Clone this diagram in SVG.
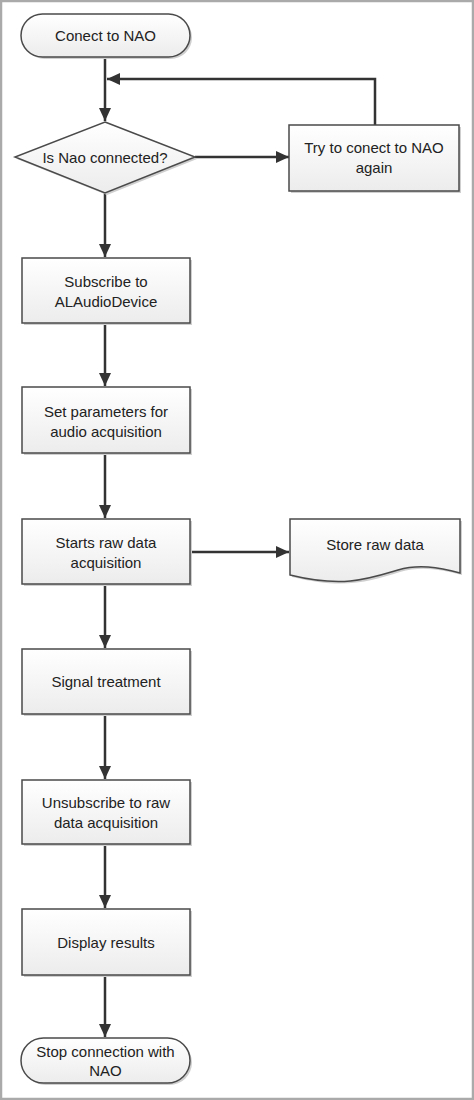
<svg xmlns="http://www.w3.org/2000/svg" width="474" height="1100" viewBox="0 0 474 1100">
<defs>
<linearGradient id="g" x1="0" y1="0" x2="0" y2="1">
<stop offset="0" stop-color="#ffffff"/>
<stop offset="1" stop-color="#ececec"/>
</linearGradient>
<marker id="ah" markerUnits="userSpaceOnUse" markerWidth="14" markerHeight="12" refX="13" refY="6" orient="auto">
<path d="M0,0 L13,6 L0,12 z" fill="#333"/>
</marker>
<style>
.n{fill:url(#g);stroke:#4a4a4a;stroke-width:1.5}
.s{fill:#cfcfcf;stroke:none}
.t{font-family:"Liberation Sans",Arial,sans-serif;font-size:15px;fill:#222;text-anchor:middle}
.c{fill:none;stroke:#333;stroke-width:2.5;marker-end:url(#ah)}
</style>
</defs>
<rect x="0" y="0" width="474" height="1100" fill="#fff"/>
<rect x="1" y="1" width="472" height="1098" fill="none" stroke="#aaa" stroke-width="2.5"/>
<g id="connectors">
<path class="c" d="M105,57 V121"/>
<path class="c" d="M375,125 V79 H107"/>
<path class="c" d="M195,157 H289"/>
<path class="c" d="M105,193 V257"/>
<path class="c" d="M105,323 V386"/>
<path class="c" d="M105,453 V518"/>
<path class="c" d="M190,552 H289"/>
<path class="c" d="M105,584 V648"/>
<path class="c" d="M105,714 V779"/>
<path class="c" d="M105,844 V908"/>
<path class="c" d="M105,975 V1037"/>
</g>
<g id="start">
<rect class="s" x="23" y="16" width="169" height="43" rx="21.5"/>
<rect class="n" x="21" y="14" width="169" height="43" rx="21.5"/>
<text class="t" x="105.5" y="41">Conect to NAO</text>
</g>
<g id="decision">
<polygon class="s" points="107,124 197,159 107,195 17,159"/>
<polygon class="n" points="105,122 195,157 105,193 15,157"/>
<text class="t" x="105" y="163">Is Nao connected?</text>
</g>
<g id="retry">
<rect class="s" x="291" y="127" width="170" height="66"/>
<rect class="n" x="289" y="125" width="170" height="66"/>
<text class="t" x="374" y="153">Try to conect to NAO</text>
<text class="t" x="374" y="173">again</text>
</g>
<g id="subscribe">
<rect class="s" x="24" y="260" width="168" height="65"/>
<rect class="n" x="22" y="258" width="168" height="65"/>
<text class="t" x="106" y="287">Subscribe to</text>
<text class="t" x="106" y="307">ALAudioDevice</text>
</g>
<g id="params">
<rect class="s" x="24" y="389" width="168" height="66"/>
<rect class="n" x="22" y="387" width="168" height="66"/>
<text class="t" x="106" y="417">Set parameters for</text>
<text class="t" x="106" y="437">audio acquisition</text>
</g>
<g id="starts">
<rect class="s" x="24" y="521" width="168" height="65"/>
<rect class="n" x="22" y="519" width="168" height="65"/>
<text class="t" x="106" y="548">Starts raw data</text>
<text class="t" x="106" y="568">acquisition</text>
</g>
<g id="store">
<path class="s" d="M292,521 H462 V575 C440,569 420,566 400,572 C370,581 345,590 292,577 Z"/>
<path class="n" d="M290,519 H460 V573 C438,567 418,564 398,570 C368,579 343,588 290,575 Z"/>
<text class="t" x="375" y="550">Store raw data</text>
</g>
<g id="signal">
<rect class="s" x="24" y="651" width="168" height="65"/>
<rect class="n" x="22" y="649" width="168" height="65"/>
<text class="t" x="106" y="687">Signal treatment</text>
</g>
<g id="unsubscribe">
<rect class="s" x="24" y="782" width="168" height="64"/>
<rect class="n" x="22" y="780" width="168" height="64"/>
<text class="t" x="106" y="808">Unsubscribe to raw</text>
<text class="t" x="106" y="828">data acquisition</text>
</g>
<g id="display">
<rect class="s" x="24" y="911" width="168" height="66"/>
<rect class="n" x="22" y="909" width="168" height="66"/>
<text class="t" x="106" y="948">Display results</text>
</g>
<g id="stop">
<rect class="s" x="23" y="1040" width="169" height="45" rx="22.5"/>
<rect class="n" x="21" y="1038" width="169" height="45" rx="22.5"/>
<text class="t" x="105.5" y="1057">Stop connection with</text>
<text class="t" x="105.5" y="1076">NAO</text>
</g>
</svg>
